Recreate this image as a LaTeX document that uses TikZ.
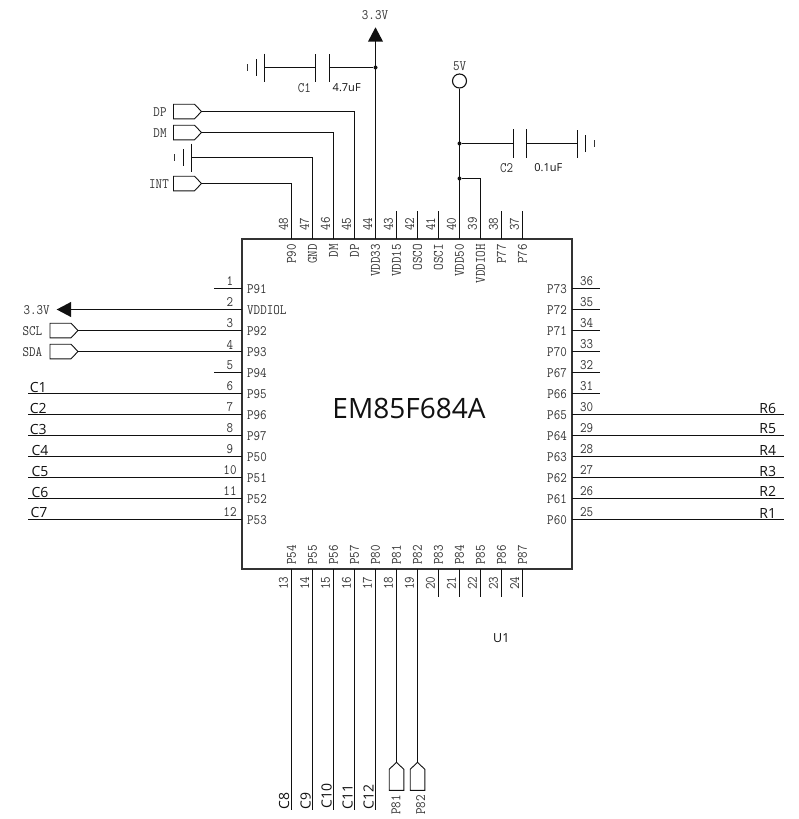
\documentclass[tikz,border=0pt]{standalone}
\usepackage{fontspec}
\newfontfamily\opensans{Open Sans}
\newfontfamily\pinface[FakeStretch=0.88]{Latin Modern Mono}
\definecolor{ink}{HTML}{111111}
\definecolor{txt}{HTML}{333333}
\tikzset{
  wire/.style={draw=ink,line width=1.15pt},
  chipbox/.style={draw=txt,line width=1.4pt,fill=none,inner sep=0pt,minimum width=330pt,minimum height=330pt},
  pinfont/.style={font=\fontsize{14.4}{15}\pinface,text=txt,inner sep=0pt},
  sanslab/.style={font=\fontsize{14}{15}\opensans,text=ink,inner sep=0pt},
  valuelab/.style={font=\fontsize{11}{12}\opensans,text=ink,inner sep=0pt},
  dot/.style={circle,fill=ink,draw=none,inner sep=0pt,minimum size=4pt},
  portshape/.pic={\draw[draw=ink,line width=0.9pt] (-28,-7.3) -- (-7,-7.3) -- (0,0) -- (-7,7.3) -- (-28,7.3) -- cycle;},
  gndshape/.pic={
    \draw[draw=ink,line width=1pt] (0,-14) -- (0,14);
    \draw[draw=ink,line width=1pt] (-8,-8.5) -- (-8,8.5);
    \draw[draw=txt,line width=1.6pt] (-17,-3.3) -- (-17,3.3);},
  arrowshape/.pic={\fill[ink] (0,0) -- (14.4,-7.6) -- (14.4,7.6) -- cycle;}
}
\begin{document}
\begin{tikzpicture}[x=1pt,y=-1pt]
\useasboundingbox (0,0) rectangle (798,819);
\node[chipbox] (U) at (407,404) {};
\node[font=\fontsize{28}{29}\opensans,text=ink,inner sep=0pt] (title) at (409,408) {EM85F684A};
\node[font=\fontsize{12.5}{13}\opensans,text=ink,inner sep=0pt] (refU) at (501.3,638.3) {U1};
% top pins
\foreach \n/\lab [count=\i from 0] in {48/P90,47/GND,46/DM,45/DP,44/VDD33,43/VDD15,42/OSCO,41/OSCI,40/VDD50,39/VDDIOH,38/P77,37/P76}{
  \pgfmathsetmacro{\px}{floor(291.3+21.03*\i)+0.5}
  \coordinate (p\n) at (\px,239);
  \coordinate (e\n) at (\px,211);
  \node[pinfont,rotate=90] (num\n) at (\px-8,224) {\n};
  \node[pinfont,rotate=90,anchor=east] (lab\n) at (\px,244) {\lab};
}
\foreach \n in {43,42,41,38,37}{\draw[wire] (p\n) -- (e\n);}
% left pins
\foreach \n/\lab in {1/P91,2/VDDIOL,3/P92,4/P93,5/P94,6/P95,7/P96,8/P97,9/P50,10/P51,11/P52,12/P53}{
  \pgfmathsetmacro{\py}{floor(288.3+21.03*(\n-1))+0.5}
  \coordinate (p\n) at (242,\py);
  \coordinate (e\n) at (214,\py);
  \coordinate (f\n) at (28,\py);
  \node[pinfont] (num\n) at (230,\py-7) {\n};
  \node[pinfont,anchor=west] (lab\n) at (247,\py+1) {\lab};
}
\foreach \n in {1,5}{\draw[wire] (p\n) -- (e\n);}
\foreach \n in {6,...,12}{\draw[wire] (p\n) -- (f\n);}
% bottom pins
\foreach \n/\lab [count=\i from 0] in {13/P54,14/P55,15/P56,16/P57,17/P80,18/P81,19/P82,20/P83,21/P84,22/P85,23/P86,24/P87}{
  \pgfmathsetmacro{\px}{floor(291.3+21.03*\i)+0.5}
  \coordinate (p\n) at (\px,569);
  \coordinate (e\n) at (\px,597);
  \coordinate (f\n) at (\px,810);
  \node[pinfont,rotate=90] (num\n) at (\px-8,583) {\n};
  \node[pinfont,rotate=90,anchor=west] (lab\n) at (\px,565) {\lab};
}
\foreach \n in {20,...,24}{\draw[wire] (p\n) -- (e\n);}
\foreach \n in {13,...,17}{\draw[wire] (p\n) -- (f\n);}
% right pins
\foreach \n/\lab [count=\i from 0] in {36/P73,35/P72,34/P71,33/P70,32/P67,31/P66,30/P65,29/P64,28/P63,27/P62,26/P61,25/P60}{
  \pgfmathsetmacro{\py}{floor(288+21.06*\i)+0.5}
  \coordinate (p\n) at (572,\py);
  \coordinate (e\n) at (600,\py);
  \coordinate (f\n) at (784,\py);
  \node[pinfont] (num\n) at (586.7,\py-7) {\n};
  \node[pinfont,anchor=east] (lab\n) at (567,\py+1) {\lab};
}
\foreach \n in {36,...,31}{\draw[wire] (p\n) -- (e\n);}
\foreach \n in {30,...,25}{\draw[wire] (p\n) -- (f\n);}
% net labels on the long wires
\foreach \t/\x/\y in {C1/38.3/387,C2/38.3/408,C3/38.3/429.5,C4/40/450,C5/40/471,C6/40/492,C7/39/512}{
  \node[sanslab] (n\t) at (\x,\y) {\t};}
\foreach \t/\y in {R6/408.3,R5/429,R4/450.3,R3/471.3,R2/491,R1/513}{
  \node[sanslab] (n\t) at (767.7,\y) {\t};}
\foreach \t/\x/\y in {C8/284/800.7,C9/305.7/800.7,C10/326.7/796,C11/347.7/797,C12/368.7/796.7}{
  \node[sanslab,rotate=90] (n\t) at (\x,\y) {\t};}
% 3.3V top with C1
\pic at (375.5,27.3) [rotate=-90] {arrowshape};
\coordinate (up) at (375.5,38);
\node[pinfont] (v33a) at (375,15) {3.3V};
\node[dot] (j1) at (375.5,67.5) {};
\draw[wire] (p44) -- (up);
\coordinate (c1r) at (329.5,67.5);
\coordinate (c1l) at (315.5,67.5);
\coordinate (g1) at (264.5,67.5);
\draw[wire] (j1) -- (c1r);
\draw[wire] (c1l) -- (g1);
\draw[wire] (315.5,54) -- (315.5,81.7);
\draw[wire] (329.5,54) -- (329.5,81.7);
\pic at (g1) {gndshape};
\node[pinfont] (c1name) at (304.3,88.3) {C1};
\node[valuelab] (c1val) at (346.7,88) {4.7uF};
% ports DP DM INT, GND
\coordinate (tDP) at (201.5,111.5);
\coordinate (tDM) at (201.5,132.5);
\coordinate (tINT) at (201.5,183.5);
\coordinate (g3) at (191.5,157.5);
\pic at (tDP) {portshape};
\pic at (tDM) {portshape};
\pic at (tINT) {portshape};
\pic at (g3) {gndshape};
\draw[wire] (p45) |- (tDP);
\draw[wire] (p46) |- (tDM);
\draw[wire] (p47) |- (g3);
\draw[wire] (p48) |- (tINT);
\node[pinfont] (lDP) at (160,111.7) {DP};
\node[pinfont] (lDM) at (160,133) {DM};
\node[pinfont] (lINT) at (159,184) {INT};
% 5V with C2
\node[circle,draw=ink,line width=1.1pt,fill=none,inner sep=0pt,minimum size=14pt] (v5) at (459.5,81) {};
\node[pinfont] (v5l) at (459.7,66) {5V};
\node[dot] (j2) at (459.5,143.5) {};
\node[dot] (j3) at (459.5,178.5) {};
\draw[wire] (v5) -- (p40);
\draw[wire] (p39) |- (j3);
\coordinate (c2l) at (513.5,143.5);
\coordinate (c2r) at (526.5,143.5);
\coordinate (g2) at (577.5,143.5);
\draw[wire] (j2) -- (c2l);
\draw[wire] (c2r) -- (g2);
\draw[wire] (513.5,129.3) -- (513.5,157.7);
\draw[wire] (526.5,129.3) -- (526.5,157.7);
\pic at (g2) [rotate=180] {gndshape};
\node[pinfont] (c2name) at (506.7,168) {C2};
\node[valuelab] (c2val) at (548.3,168) {0.1uF};
% left 3.3V, SCL, SDA
\pic at (56.7,309.5) {arrowshape};
\coordinate (lft) at (68,309.5);
\draw[wire] (p2) -- (lft);
\node[pinfont] (v33b) at (36.7,309.7) {3.3V};
\coordinate (tSCL) at (78,330.5);
\coordinate (tSDA) at (78,351.5);
\pic at (tSCL) {portshape};
\pic at (tSDA) {portshape};
\draw[wire] (p3) -- (tSCL);
\draw[wire] (p4) -- (tSDA);
\node[pinfont] (lSCL) at (32.3,330.7) {SCL};
\node[pinfont] (lSDA) at (32.3,351.7) {SDA};
% bottom ports
\coordinate (t18) at (396.5,762.3);
\coordinate (t19) at (417.5,762.3);
\pic at (t18) [rotate=90] {portshape};
\pic at (t19) [rotate=90] {portshape};
\draw[wire] (p18) -- (t18);
\draw[wire] (p19) -- (t19);
\node[pinfont,rotate=90] (l81) at (396,805) {P81};
\node[pinfont,rotate=90] (l82) at (420.7,805) {P82};
\end{tikzpicture}
\end{document}
